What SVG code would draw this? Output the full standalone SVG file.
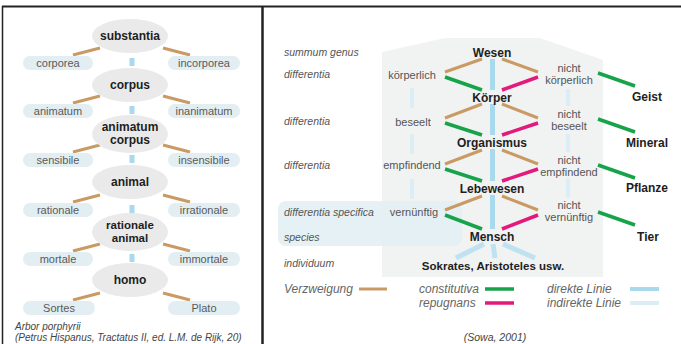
<svg xmlns="http://www.w3.org/2000/svg" width="681" height="344" viewBox="0 0 681 344">
<style>
text{font-family:"Liberation Sans",Arial,sans-serif}
.ell{fill:#eaeaea}
.pill{fill:#e2eef2}
.nb{font-weight:bold;font-size:12px;fill:#1e1e1e;text-anchor:middle}
.pt{font-size:11px;fill:#5a5a5a;text-anchor:middle}
.it{font-style:italic;font-size:10.5px;fill:#555}
.lg{font-style:italic;font-size:12px;fill:#666}
.ml{font-size:11px;fill:#555;text-anchor:middle}
.tan{stroke:#c99a64;stroke-width:3;fill:none}
.grn{stroke:#17a34a;stroke-width:3.5;fill:none}
.pnk{stroke:#e3197c;stroke-width:3.5;fill:none}
.dir{stroke:#a9d9ec;stroke-width:5;fill:none}
.ind{stroke:#dbeef5;stroke-width:4;fill:none}
.sq{fill:#a9d9ec}
.cap{font-style:italic;font-size:10px;fill:#444}
</style>
<rect width="681" height="344" fill="#ffffff"/>
<!-- frame -->
<line x1="2" y1="6.5" x2="681" y2="6.5" stroke="#222" stroke-width="2"/>
<line x1="2.5" y1="6" x2="2.5" y2="344" stroke="#222" stroke-width="1.5"/>
<line x1="262.5" y1="6" x2="262.5" y2="344" stroke="#222" stroke-width="2.5"/>

<!-- right panel backgrounds -->
<polygon points="382,52 445,38 540,38 603,60 603,277 382,277" fill="#f1f2f2"/>
<rect x="278" y="201" width="184" height="45" rx="8" fill="#e3f0f5" opacity="0.9"/>

<!-- LEFT PANEL connectors -->
<g id="left-connectors">
<line class="tan" x1="73" y1="55" x2="100" y2="48"/><line class="tan" x1="163" y1="48" x2="190" y2="55"/>
<line class="tan" x1="73" y1="103" x2="100" y2="96"/><line class="tan" x1="163" y1="96" x2="190" y2="103"/>
<line class="tan" x1="73" y1="152" x2="100" y2="145"/><line class="tan" x1="163" y1="145" x2="190" y2="152"/>
<line class="tan" x1="73" y1="202" x2="100" y2="195"/><line class="tan" x1="163" y1="195" x2="190" y2="202"/>
<line class="tan" x1="73" y1="251" x2="100" y2="244"/><line class="tan" x1="163" y1="244" x2="190" y2="251"/>
<line class="tan" x1="73" y1="300" x2="100" y2="293"/><line class="tan" x1="163" y1="293" x2="190" y2="300"/>
<rect class="sq" x="129.5" y="58" width="5" height="8"/>
<rect class="sq" x="129.5" y="106" width="5" height="8"/>
<rect class="sq" x="129.5" y="155" width="5" height="8"/>
<rect class="sq" x="129.5" y="205" width="5" height="8"/>
<rect class="sq" x="129.5" y="254" width="5" height="8"/>
</g>

<!-- LEFT PANEL nodes -->
<g id="substantia"><ellipse class="ell" cx="130" cy="36" rx="38" ry="17"/><text class="nb" x="130" y="40">substantia</text></g>
<g id="corporea"><rect class="pill" x="23" y="56" width="70" height="14" rx="7"/><text class="pt" x="58" y="67">corporea</text></g>
<g id="incorporea"><rect class="pill" x="168" y="56" width="72" height="14" rx="7"/><text class="pt" x="204" y="67">incorporea</text></g>

<g id="corpus"><ellipse class="ell" cx="130" cy="85" rx="38" ry="17"/><text class="nb" x="130" y="89">corpus</text></g>
<g id="animatum"><rect class="pill" x="23" y="104" width="70" height="14" rx="7"/><text class="pt" x="58" y="115">animatum</text></g>
<g id="inanimatum"><rect class="pill" x="168" y="104" width="72" height="14" rx="7"/><text class="pt" x="204" y="115">inanimatum</text></g>

<g id="animatum-corpus"><ellipse class="ell" cx="130" cy="134" rx="38" ry="19"/><text class="nb" x="130" y="131">animatum</text><text class="nb" x="130" y="144">corpus</text></g>
<g id="sensibile"><rect class="pill" x="23" y="153" width="70" height="14" rx="7"/><text class="pt" x="58" y="164">sensibile</text></g>
<g id="insensibile"><rect class="pill" x="168" y="153" width="72" height="14" rx="7"/><text class="pt" x="204" y="164">insensibile</text></g>

<g id="animal"><ellipse class="ell" cx="130" cy="182" rx="38" ry="17"/><text class="nb" x="130" y="186">animal</text></g>
<g id="rationale"><rect class="pill" x="23" y="203" width="70" height="14" rx="7"/><text class="pt" x="58" y="214">rationale</text></g>
<g id="irrationale"><rect class="pill" x="168" y="203" width="72" height="14" rx="7"/><text class="pt" x="204" y="214">irrationale</text></g>

<g id="rationale-animal"><ellipse class="ell" cx="130" cy="232" rx="38" ry="19"/><text class="nb" x="130" y="229" style="font-size:11.5px">rationale</text><text class="nb" x="130" y="242" style="font-size:11.5px">animal</text></g>
<g id="mortale"><rect class="pill" x="23" y="252" width="70" height="14" rx="7"/><text class="pt" x="58" y="263">mortale</text></g>
<g id="immortale"><rect class="pill" x="168" y="252" width="72" height="14" rx="7"/><text class="pt" x="204" y="263">immortale</text></g>

<g id="homo"><ellipse class="ell" cx="130" cy="280" rx="38" ry="17"/><text class="nb" x="130" y="284">homo</text></g>
<g id="sortes"><rect class="pill" x="23" y="301" width="72" height="14" rx="7"/><text class="pt" x="59" y="312">Sortes</text></g>
<g id="plato"><rect class="pill" x="168" y="301" width="72" height="14" rx="7"/><text class="pt" x="204" y="312">Plato</text></g>

<g id="left-caption">
<text class="cap" x="15" y="330">Arbor porphyrii</text>
<text class="cap" x="15" y="341">(Petrus Hispanus, Tractatus II, ed. L.M. de Rijk, 20)</text>
</g>

<!-- RIGHT PANEL row labels -->
<g id="row-labels">
<text class="it" x="284" y="56">summum genus</text>
<text class="it" x="284" y="78">differentia</text>
<text class="it" x="284" y="125">differentia</text>
<text class="it" x="284" y="169">differentia</text>
<text class="it" x="284" y="216">differentia specifica</text>
<text class="it" x="284" y="241">species</text>
<text class="it" x="284" y="267">individuum</text>
</g>

<!-- RIGHT PANEL connectors -->
<g id="right-connectors">
<line class="dir" x1="492.5" y1="59" x2="492.5" y2="90"/>
<line class="dir" x1="492.5" y1="104" x2="492.5" y2="135"/>
<line class="dir" x1="492.5" y1="149" x2="492.5" y2="181"/>
<line class="dir" x1="492.5" y1="195" x2="492.5" y2="229"/>
<line class="dir" x1="484" y1="244" x2="456" y2="258" style="stroke:#bfe2f0"/>
<line class="dir" x1="493" y1="244" x2="495" y2="258" style="stroke:#bfe2f0"/>
<line class="dir" x1="503" y1="244" x2="535" y2="258" style="stroke:#bfe2f0"/>
<line class="ind" x1="412" y1="88" x2="412" y2="108"/>
<line class="ind" x1="412" y1="134" x2="412" y2="154"/>
<line class="ind" x1="412" y1="179" x2="412" y2="199"/>
<line class="ind" x1="568" y1="89" x2="568" y2="106"/>
<line class="ind" x1="568" y1="134" x2="568" y2="152"/>
<line class="ind" x1="568" y1="179" x2="568" y2="197"/>
<line class="tan" x1="445" y1="72" x2="482" y2="59"/>
<line class="grn" x1="445" y1="77" x2="482" y2="90"/>
<line class="tan" x1="502" y1="59" x2="538" y2="72"/>
<line class="pnk" x1="502" y1="90" x2="538" y2="77"/>
<line class="grn" x1="598" y1="73" x2="635" y2="86"/>
<line class="tan" x1="445" y1="118" x2="482" y2="104"/>
<line class="grn" x1="445" y1="123" x2="482" y2="135"/>
<line class="tan" x1="502" y1="104" x2="538" y2="118"/>
<line class="pnk" x1="502" y1="135" x2="538" y2="123"/>
<line class="grn" x1="598" y1="119" x2="635" y2="132"/>
<line class="tan" x1="445" y1="164" x2="482" y2="150"/>
<line class="grn" x1="445" y1="169" x2="482" y2="181"/>
<line class="tan" x1="502" y1="150" x2="538" y2="164"/>
<line class="pnk" x1="502" y1="181" x2="538" y2="169"/>
<line class="grn" x1="598" y1="165" x2="635" y2="178"/>
<line class="tan" x1="445" y1="210" x2="482" y2="196"/>
<line class="grn" x1="445" y1="215" x2="482" y2="229"/>
<line class="tan" x1="502" y1="196" x2="538" y2="210"/>
<line class="pnk" x1="502" y1="229" x2="538" y2="215"/>
<line class="grn" x1="598" y1="212" x2="635" y2="225"/>
</g>

<!-- RIGHT PANEL nodes -->
<g id="wesen"><text class="nb" x="492" y="57">Wesen</text></g>
<g id="koerper"><text class="nb" x="492" y="102">Körper</text></g>
<g id="organismus"><text class="nb" x="492" y="147">Organismus</text></g>
<g id="lebewesen"><text class="nb" x="492" y="193">Lebewesen</text></g>
<g id="mensch"><text class="nb" x="492" y="241">Mensch</text></g>
<g id="sokrates"><text class="nb" x="493" y="270" style="font-size:11.5px">Sokrates, Aristoteles usw.</text></g>

<g id="koerperlich"><text class="ml" x="412" y="79">körperlich</text></g>
<g id="beseelt"><text class="ml" x="413" y="126">beseelt</text></g>
<g id="empfindend"><text class="ml" x="412" y="169">empfindend</text></g>
<g id="vernuenftig"><text class="ml" x="414" y="216">vernünftig</text></g>

<g id="nicht-koerperlich"><text class="ml" x="569" y="72">nicht</text><text class="ml" x="569" y="84">körperlich</text></g>
<g id="nicht-beseelt"><text class="ml" x="569" y="118">nicht</text><text class="ml" x="569" y="130">beseelt</text></g>
<g id="nicht-empfindend"><text class="ml" x="569" y="164">nicht</text><text class="ml" x="569" y="176">empfindend</text></g>
<g id="nicht-vernuenftig"><text class="ml" x="569" y="209">nicht</text><text class="ml" x="569" y="221">vernünftig</text></g>

<g id="geist"><text class="nb" x="647" y="101">Geist</text></g>
<g id="mineral"><text class="nb" x="647" y="147">Mineral</text></g>
<g id="pflanze"><text class="nb" x="647" y="192">Pflanze</text></g>
<g id="tier"><text class="nb" x="648" y="241">Tier</text></g>

<!-- legend -->
<g id="legend">
<text class="lg" x="284" y="293">Verzweigung</text>
<line class="tan" x1="359" y1="289" x2="387" y2="289"/>
<text class="lg" x="419" y="293">constitutiva</text>
<line class="grn" x1="485" y1="289" x2="514" y2="289"/>
<text class="lg" x="419" y="307">repugnans</text>
<line class="pnk" x1="485" y1="303" x2="514" y2="303"/>
<text class="lg" x="547" y="293">direkte Linie</text>
<line class="dir" x1="630" y1="289" x2="659" y2="289" style="stroke-width:4"/>
<text class="lg" x="547" y="307">indirekte Linie</text>
<line class="ind" x1="630" y1="303" x2="659" y2="303"/>
<text class="cap" x="495" y="341" style="font-size:10.5px;text-anchor:middle">(Sowa, 2001)</text>
</g>
</svg>
